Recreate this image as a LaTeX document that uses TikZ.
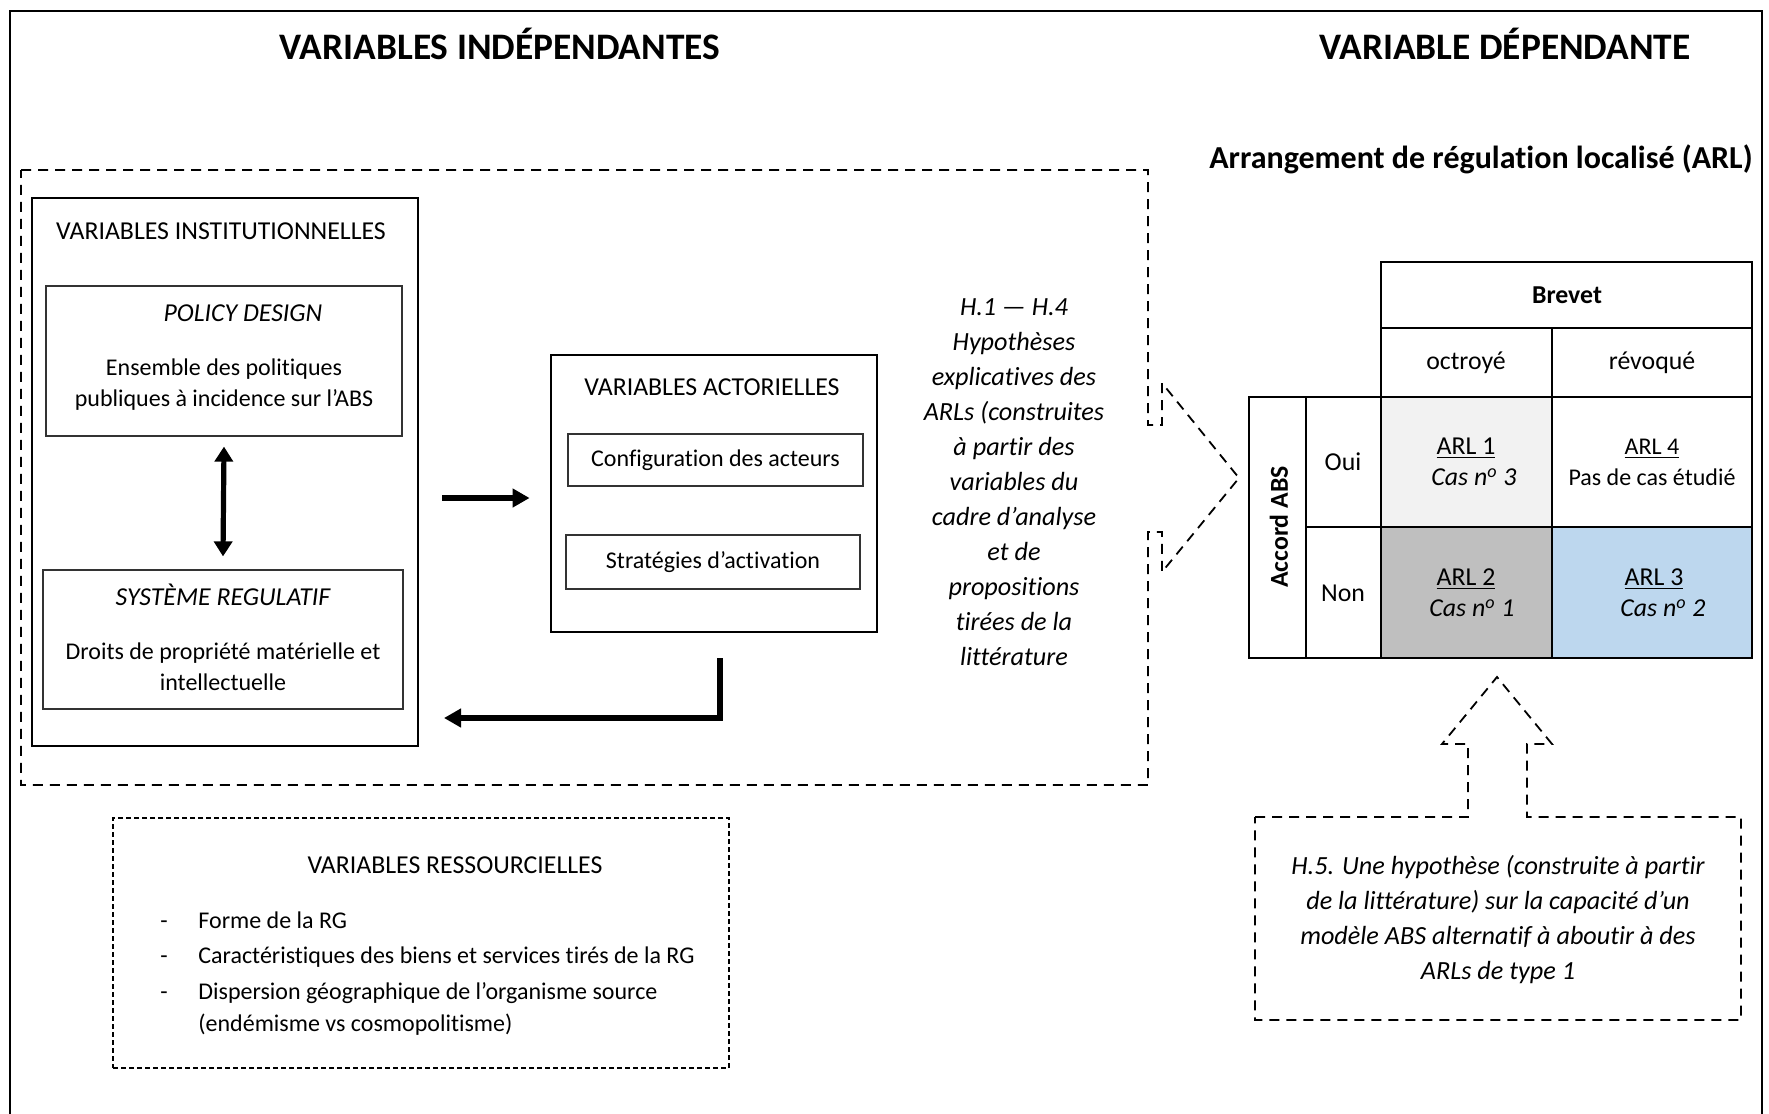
\documentclass[tikz,border=0pt]{standalone}
\usepackage{fontspec}
\setmainfont{Carlito}[Ligatures={TeX,NoCommon}]
\usetikzlibrary{arrows.meta,fit}

\definecolor{arlclair}{HTML}{F2F2F2}
\definecolor{arlgris}{HTML}{BFBFBF}
\definecolor{arlbleu}{HTML}{BDD7EE}

\begin{document}
\begin{tikzpicture}[x=0.5pt,y=-0.5pt,
  maintitle/.style={font=\bfseries\fontsize{18.7}{22}\selectfont,inner sep=0pt},
  boxtitle/.style={font=\fontsize{12.9}{15}\selectfont,inner sep=0pt},
  boxtext/.style={font=\fontsize{12}{15.5}\selectfont,align=center,inner sep=0pt},
  hyptext/.style={font=\itshape\fontsize{13.1}{17.5}\selectfont,align=center,inner sep=0pt},
  cell/.style={font=\fontsize{12.9}{15.5}\selectfont,align=center,inner sep=0pt},
  solidbox/.style={draw,line width=1.4pt,inner sep=0pt},
  thinbox/.style={draw=black!80,line width=0.6pt,inner sep=0pt},
  dashline/.style={line width=0.9pt,dash pattern=on 5pt off 3.5pt},
  resline/.style={draw,line width=0.7pt,dash pattern=on 2.5pt off 1.5pt,inner sep=0pt},
  bigarrow/.style={line width=2.6pt,-{Triangle[length=8.5pt,width=9pt]}}]

  \useasboundingbox (0,0) rectangle (1769,1114);
  \draw[line width=1pt] (10,1120) -- (10,11) -- (1762,11) -- (1762,1120);

  \node[maintitle] (indep) at (500,44) {VARIABLES INDÉPENDANTES};
  \node[maintitle] (dep) at (1505,44) {VARIABLE DÉPENDANTE};
  \node[maintitle,font=\bfseries\fontsize{16}{19}\selectfont] (arl) at (1481,159)
    {Arrangement de régulation localisé (ARL)};

  % cadre des variables independantes, avec sa fleche vers le tableau
  \draw[dashline] (21,170) -- (1148,170) -- (1148,425) -- (1162,425) -- (1162,383)
    -- (1239,478) -- (1162,572) -- (1162,532) -- (1148,532) -- (1148,785)
    -- (21,785) -- cycle;

  \node[solidbox, fit={(32,198) (418,746)}] (inst) {};
  \node[boxtitle] (insttitle) at (221,231) {VARIABLES INSTITUTIONNELLES};
  \node[thinbox, fit={(46,286) (402,436)}] (pd) {};
  \node[boxtitle] (pdtitle) at (243,313) {\itshape POLICY DESIGN};
  \node[boxtext] (pdtext) at (224,385)
    {Ensemble des politiques\\publiques à incidence sur l’ABS};
  \node[thinbox, fit={(43,570) (403,709)}] (sr) {};
  \node[boxtitle] (srtitle) at (223,595) {\itshape SYSTÈME REGULATIF};
  \node[boxtext] (srtext) at (223,667)
    {Droits de propriété matérielle et\\intellectuelle};
  \draw[bigarrow,{Triangle[length=7.5pt,width=9pt]}-{Triangle[length=7.5pt,width=9pt]}]
    ([yshift=-5pt]pd.south) -- ([yshift=6.5pt]sr.north);

  \node[solidbox, fit={(551,355) (877,632)}] (actor) {};
  \node[boxtitle] (actortitle) at (712,387) {VARIABLES ACTORIELLES};
  \node[thinbox, fit={(568,434) (863,486)}] (config) {};
  \node[boxtext] (configtext) at (config) {Configuration des acteurs};
  \node[thinbox, fit={(566,535) (860,589)}] (strat) {};
  \node[boxtext] (strattext) at (strat) {Stratégies d’activation};

  \coordinate (versact) at (442,498);
  \draw[bigarrow,shorten >=10pt] (versact) -- (versact -| actor.west);
  \coordinate (retour) at (720,658);
  \coordinate (retourfin) at (444,718);
  \draw[bigarrow] (retour) |- (retourfin);

  \node[hyptext] (hyp) at (1014,482) {H.1 — H.4\\Hypothèses\\explicatives des\\ARLs (construites\\à partir des\\variables du\\cadre d’analyse\\et de\\propositions\\tirées de la\\littérature};

  % variables ressourcielles
  \node[resline, fit={(113,818) (729,1068)}] (res) {};
  \node[boxtitle] (restitle) at (455,865) {VARIABLES RESSOURCIELLES};
  \foreach \i/\y/\txt in {1/920/Forme de la RG,
      2/957/Caractéristiques des biens et services tirés de la RG,
      3/993/Dispersion géographique de l’organisme source} {
    \node[boxtext,anchor=west] (item\i) at (198,\y) {\txt};
    \node[boxtext,anchor=base] (dash\i) at (item\i.base -| 164,0) {-};
  }
  \node[boxtext,anchor=west] (item4) at (198,1025) {(endémisme vs cosmopolitisme)};

  % tableau des ARL
  \fill[arlclair] (1381,397) rectangle (1552,527);
  \fill[arlgris] (1381,527) rectangle (1552,658);
  \fill[arlbleu] (1552,527) rectangle (1752,658);
  \draw[line width=1pt] (1381,262) rectangle (1752,397)
    (1381,328) -- (1752,328) (1552,328) -- (1552,658)
    (1249,397) rectangle (1752,658)
    (1306,397) -- (1306,658) (1381,397) -- (1381,658)
    (1306,527) -- (1752,527);
  \node[cell] (brevet) at (1567,295) {\bfseries Brevet};
  \node[cell] (octroye) at (1466,363) {octroyé};
  \node[cell] (revoque) at (1652,363) {révoqué};
  \node[cell,rotate=90] (accord) at (1279,527) {\bfseries Accord ABS};
  \node[cell] (oui) at (1343,462) {Oui};
  \node[cell] (non) at (1343,593) {Non};
  \node[cell] (arl1) at (1466,462) {\underline{ARL 1}\\\hspace*{8pt}\textit{Cas n\textsuperscript{o} 3}};
  \node[cell,font=\fontsize{12}{15.5}\selectfont] (arl4) at (1652,462) {\underline{ARL 4}\\Pas de cas étudié};
  \node[cell] (arl2) at (1466,593) {\underline{ARL 2}\\\hspace*{6pt}\textit{Cas n\textsuperscript{o} 1}};
  \node[cell] (arl3) at (1654,593) {\underline{ARL 3}\\\hspace*{9pt}\textit{Cas n\textsuperscript{o} 2}};

  % hypothese H.5 et sa fleche
  \draw[dashline] (1255,817) -- (1468,817) -- (1468,744) -- (1442,744) -- (1497,677)
    -- (1552,744) -- (1527,744) -- (1527,817) -- (1741,817) -- (1741,1020)
    -- (1255,1020) -- cycle;
  \node[hyptext] (hcinq) at (1498,920) {H.5. Une hypothèse (construite à partir\\de la littérature) sur la capacité d’un\\modèle ABS alternatif à aboutir à des\\ARLs de type 1};
\end{tikzpicture}
\end{document}
